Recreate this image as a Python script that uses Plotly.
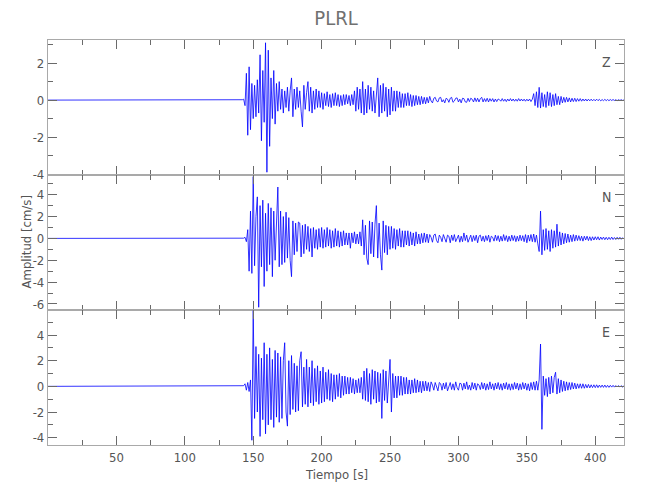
import plotly.graph_objects as go

# ---------------- data (cm/s), one sample per second ----------------
T0 = 140  # traces are flat (≈0) before this time

Z_ACTIVE = [
    0.0, 0.0, 0.02, 0.05, -0.3, 1.45, -1.9, 1.8, -1.6, 0.9,
    -1.0, 0.8, -0.9, 1.1, -0.7, 2.45, -2.2, 1.6, -1.2, 3.1,
    -3.9, 2.7, -2.5, 1.2, -1.0, 1.6, -1.3, 0.9, -0.6, 1.0,
    -0.5, 0.6, -0.7, 0.5, -0.4, 0.7, -0.6, 0.5, 1.2, -0.9,
    0.6, -0.5, 0.7, -0.4, 0.5, -0.6, -1.45, 0.8, -0.5, 0.4,
    1.0, -0.6, 0.7, -0.7, 0.5, -0.5, 0.6, -0.4, 0.5, -0.4,
    0.4, -0.5, 0.35, -0.3, 0.45, -0.35, 0.3, -0.4, 0.35, -0.3,
    0.4, -0.3, 0.3, -0.35, 0.25, -0.3, 0.3, -0.25, 0.3, -0.2,
    0.25, -0.3, 0.3, -0.25, 0.5, -0.6, 0.7, -0.5, 0.6, -0.7,
    1.0, -0.8, 0.6, -0.7, 0.8, -0.5, 0.7, -0.6, 0.5, -0.7,
    0.6, 1.2, -0.9, 0.8, -0.7, 0.9, -0.6, 0.7, -0.9, 0.6,
    -0.8, 0.7, -0.6, 0.5, -0.6, 0.5, -0.4, 0.45, -0.4, 0.35,
    -0.4, 0.35, -0.3, 0.4, -0.3, 0.3, -0.35, 0.25, -0.3, 0.25,
    -0.25, 0.2, -0.25, 0.2, -0.2, 0.15, -0.2, 0.15, -0.15, 0.2,
    -0.05, -0.15, 0.1, 0.15, -0.05, -0.1, 0.12, 0.15, -0.1, 0.02,
    -0.15, 0.1, 0.05, -0.12, 0.1, 0.15, -0.12, -0.05, 0.1, 0.12,
    -0.1, 0.05, -0.15, 0.1, 0.08, -0.1, -0.12, 0.1, -0.08, 0.1,
    0.05, -0.1, 0.12, -0.08, 0.1, -0.1, 0.08, 0.15, -0.1, 0.08,
    -0.08, 0.1, -0.1, 0.08, -0.06, 0.08, -0.1, 0.06, -0.08, 0.06,
    0.02, -0.06, 0.08, -0.06, 0.05, -0.08, 0.06, -0.05, 0.08, -0.05,
    0.06, -0.06, 0.05, -0.06, 0.08, -0.05, 0.06, -0.05, 0.05, -0.06,
    0.05, -0.05, 0.06, -0.08, 0.05, 0.35, -0.3, 0.45, -0.4, 0.69,
    -0.43, 0.4, -0.35, 0.3, -0.4, 0.45, -0.3, 0.4, -0.35, 0.3,
    -0.3, 0.35, -0.25, 0.2, -0.25, 0.2, -0.15, 0.15, -0.12, 0.15,
    -0.1, 0.12, -0.1, 0.1, -0.08, 0.1, -0.08, 0.08, -0.06, 0.08,
    -0.06, 0.06, -0.05, 0.06, -0.05, 0.05, -0.04, 0.05, -0.04, 0.04,
    -0.04, 0.05, -0.03, 0.04, -0.04, 0.03, -0.03, 0.04, -0.03, 0.03,
    -0.03, 0.03, -0.02, 0.03, -0.02, 0.02, -0.03, 0.02, -0.02, 0.02,
    -0.02, 0.01,
]

N_ACTIVE = [
    0.0, 0.0, 0.0, 0.02, 0.1, -0.3, 0.8, -3.0, 2.5, -3.2,
    5.65, -2.5, 2.0, 3.8, -6.3, 3.0, -2.6, 3.5, -4.4, 2.3,
    -3.0, 3.2, -2.4, 2.8, -3.5, 2.5, -2.0, 2.2, 4.7, -2.6,
    2.5, -2.4, 2.0, -2.2, 2.4, -1.8, 1.9, -2.0, -3.5, 1.6,
    -1.5, 1.4, -1.2, 1.5, 1.4, -1.7, 1.2, -1.4, 1.3, -1.0,
    1.1, -1.2, 0.9, -1.7, 1.0, -0.9, 0.8, -1.0, 0.9, -0.8,
    1.0, -0.9, 0.8, -0.8, 1.0, -0.7, 0.8, -0.9, 0.7, -0.8,
    0.9, -0.7, 0.7, -0.8, 0.6, -0.7, 0.7, -0.6, 0.5, -0.6,
    0.5, -0.9, 0.5, -0.4, 0.6, -0.5, 0.4, -0.5, 0.6, -0.7,
    1.7, -1.5, 1.2, -1.8, -2.4, 1.6, -1.4, 1.5, -1.7, 1.3,
    3.0, -1.8, 1.4, -1.5, -2.9, 1.6, -1.3, 1.2, -1.5, 1.1,
    -1.0, 1.1, -0.9, 0.9, -1.0, 0.8, -0.7, 0.9, -0.8, 0.7,
    -0.8, 0.7, -0.6, 0.7, -0.7, 0.6, -0.6, 0.5, -0.7, 0.6,
    -0.5, 0.4, -0.5, 0.45, -0.4, 0.5, -0.35, 0.4, -0.4, 0.35,
    0.1, -0.35, 0.3, 0.4, -0.2, -0.4, 0.3, 0.1, -0.3, 0.35,
    -0.1, -0.35, 0.3, 0.2, -0.4, 0.3, -0.2, 0.35, -0.3, 0.1,
    0.3, -0.35, 0.2, -0.3, 0.5, -0.2, 0.3, -0.35, 0.1, 0.3,
    -0.3, 0.25, -0.2, 0.3, -0.4, 0.2, 0.3, -0.25, 0.2, -0.3,
    0.25, -0.2, 0.3, -0.35, 0.2, 0.1, -0.25, 0.3, -0.2, 0.25,
    -0.3, 0.2, -0.25, 0.35, -0.2, 0.25, -0.3, 0.2, -0.25, 0.3,
    -0.2, 0.25, -0.3, 0.2, -0.25, 0.3, -0.2, 0.25, -0.3, 0.35,
    -0.4, 0.3, -0.25, 0.35, -0.3, 0.4, -0.35, 0.3, -0.5, -1.2,
    2.5, -1.5, 0.8, -1.1, 0.9, -1.0, 0.7, -1.2, 0.8, -0.9,
    0.7, -0.8, 1.3, -0.7, 0.6, -0.6, 0.5, -0.5, 0.45, -0.4,
    0.4, -0.35, 0.3, -0.3, 0.35, -0.25, 0.3, -0.2, 0.25, -0.2,
    0.2, -0.25, 0.2, -0.15, 0.2, -0.2, 0.15, -0.2, 0.15, -0.15,
    0.15, -0.12, 0.15, -0.15, 0.12, -0.1, 0.12, -0.12, 0.1, -0.12,
    0.1, -0.1, 0.12, -0.1, 0.08, -0.1, 0.1, -0.08, 0.1, -0.08,
    0.06, -0.05,
]

E_ACTIVE = [
    0.0, 0.0, 0.0, 0.05, 0.2, -0.3, 0.3, -0.4, 0.5, -4.2,
    5.9, -2.5, 3.1, -2.0, 2.5, -3.9, 2.2, -2.6, 3.4, -3.7,
    2.5, -3.0, 3.0, -2.6, 2.1, -3.2, 2.8, -2.4, 2.6, -2.8,
    2.3, -2.5, 2.0, 3.4, -2.0, -3.1, 2.0, -2.2, 2.4, -1.8,
    1.8, -2.0, 1.6, -1.9, 2.0, 2.7, -1.6, 1.5, -1.4, 2.1,
    -1.6, 1.5, -1.3, 2.0, -1.5, 1.4, -1.2, 1.6, -1.4, 1.2,
    -1.3, 1.5, -1.2, 1.1, -1.0, 1.3, -1.1, 1.0, -1.2, 0.9,
    -1.0, 0.9, -0.8, 1.0, -0.9, 0.8, -0.7, 0.8, -0.6, 0.7,
    -0.6, 0.7, -0.5, 0.6, -0.6, 0.5, -0.5, 0.6, -0.5, 0.7,
    -1.0, 1.2, -1.1, 1.4, -1.2, 1.0, -1.4, 1.3, -1.0, 1.2,
    -1.3, 1.1, -1.2, 1.0, -2.5, 1.3, -1.1, 1.2, -1.3, 1.0,
    2.1, -2.0, 1.0, -0.9, 0.8, -0.9, 0.8, -0.7, 0.8, -0.7,
    0.7, -0.6, 0.7, -0.6, 0.5, -0.6, 0.5, -0.5, 0.6, -0.5,
    0.5, -0.45, 0.4, -0.5, 0.4, -0.35, 0.4, -0.35, 0.3, -0.4,
    0.35, 0.1, -0.3, 0.3, -0.1, -0.35, 0.3, 0.2, -0.3, 0.25,
    -0.2, 0.3, -0.35, 0.1, 0.3, -0.25, 0.2, -0.3, 0.35, -0.1,
    -0.3, 0.25, 0.2, -0.3, 0.25, -0.2, 0.35, -0.25, 0.1, -0.3,
    0.3, -0.2, 0.25, -0.3, 0.2, 0.1, -0.25, 0.3, -0.2, 0.25,
    -0.3, 0.2, -0.25, 0.35, -0.2, 0.2, -0.3, 0.25, -0.2, 0.3,
    -0.25, 0.2, -0.3, 0.25, -0.2, 0.3, -0.25, 0.2, -0.3, 0.2,
    -0.25, 0.3, -0.2, 0.25, -0.3, 0.2, -0.25, 0.3, -0.2, 0.25,
    -0.3, 0.2, -0.35, 0.3, -0.25, 0.35, -0.3, 0.4, -0.3, 0.5,
    3.3, -3.35, 0.8, -0.7, 0.6, -0.8, 0.7, -0.6, 0.8, -0.5,
    0.7, 1.1, -0.6, 0.6, -0.5, 0.5, -0.4, 0.4, -0.35, 0.35,
    -0.3, 0.3, -0.25, 0.3, -0.2, 0.25, -0.2, 0.2, -0.15, 0.2,
    -0.15, 0.2, -0.15, 0.15, -0.12, 0.15, -0.12, 0.12, -0.1, 0.12,
    -0.1, 0.12, -0.1, 0.1, -0.08, 0.1, -0.08, 0.1, -0.08, 0.08,
    -0.08, 0.08, -0.06, 0.08, -0.06, 0.06, -0.05, 0.06, -0.05, 0.05,
    -0.05, 0.04,
]

QUIET = [0.0] * T0
TIME = list(range(0, T0 + len(Z_ACTIVE)))
TRACES = [QUIET + Z_ACTIVE, QUIET + N_ACTIVE, QUIET + E_ACTIVE]

COMPONENTS = ["Z", "N", "E"]
Y_RANGES = [[-4.05, 3.25], [-6.55, 5.8], [-4.57, 5.95]]
Y_TICKS = [[-4, -2, 0, 2], [-6, -4, -2, 0, 2, 4], [-4, -2, 0, 2, 4]]
X_RANGE = [0, 421]
X_TICKS = [50, 100, 150, 200, 250, 300, 350, 400]
X_MINOR = [25, 75, 125, 175, 225, 275, 325, 375]

TITLE = "PLRL"
X_LABEL = "Tiempo [s]"
Y_LABEL = "Amplitud [cm/s]"

# ---------------- style ----------------
FONT = "Liberation Sans Narrow, DejaVu Sans Condensed, Roboto, Arial, sans-serif"
FRAME = "#a9a9a9"
TICKC = "#6a6a6a"
TEXTC = "#555555"

fig = go.Figure()
domains = [[2 / 3, 1.0], [1 / 3, 2 / 3], [0.0, 1 / 3]]

for i, ys in enumerate(TRACES):
    sfx = "" if i == 0 else str(i + 1)
    fig.add_trace(go.Scatter(
        x=TIME, y=ys, mode="lines",
        line=dict(color="#0000ff", width=0.8),
        xaxis="x" + sfx, yaxis="y" + sfx,
        showlegend=False, hoverinfo="skip",
    ))
    xa = dict(
        domain=[0, 1], anchor="y" + sfx, range=X_RANGE, automargin=False,
        tickmode="array", tickvals=X_TICKS,
        ticks="inside", ticklen=9, tickwidth=1, tickcolor=TICKC,
        minor=dict(tickmode="array", tickvals=X_MINOR, ticks="inside",
                   ticklen=5, tickwidth=1, tickcolor=TICKC),
        showline=True, linecolor=FRAME, linewidth=1.2, mirror="allticks",
        showgrid=False, zeroline=False,
        showticklabels=(i == 2),
        tickfont=dict(family=FONT, size=13, color=TEXTC),
    )
    if i > 0:
        xa["matches"] = "x"
    ya = dict(
        domain=domains[i], anchor="x" + sfx, range=Y_RANGES[i], automargin=False,
        tickmode="array", tickvals=Y_TICKS[i],
        ticktext=[str(v) for v in Y_TICKS[i]],
        ticks="inside", ticklen=9, tickwidth=1, tickcolor=TICKC,
        minor=dict(tickmode="linear", tick0=0, dtick=1, ticks="inside",
                   ticklen=5, tickwidth=1, tickcolor=TICKC),
        showline=True, linecolor=FRAME, linewidth=1.2, mirror="allticks",
        showgrid=False, zeroline=False,
        tickfont=dict(family=FONT, size=13, color=TEXTC),
    )
    fig.layout["xaxis" + sfx] = xa
    fig.layout["yaxis" + sfx] = ya

PLOT_W = 576.0
PLOT_H = 405.0
annotations = []
for i, comp in enumerate(COMPONENTS):
    top = domains[i][1]
    annotations.append(dict(
        text=comp, xref="paper", yref="paper",
        x=0.969, y=top - 21.5 / PLOT_H, xanchor="center", yanchor="middle",
        showarrow=False, font=dict(family=FONT, size=14, color=TEXTC),
    ))
annotations.append(dict(
    text=Y_LABEL, xref="paper", yref="paper", x=-22 / PLOT_W, y=0.5,
    xanchor="center", yanchor="middle", textangle=-90, showarrow=False,
    font=dict(family=FONT, size=13, color=TEXTC),
))
annotations.append(dict(
    text=X_LABEL, xref="paper", yref="paper", x=0.5, y=-30 / PLOT_H,
    xanchor="center", yanchor="middle", showarrow=False,
    font=dict(family=FONT, size=13, color=TEXTC),
))

fig.update_layout(
    width=650, height=500,
    margin=dict(l=48, r=26, t=40, b=55, autoexpand=False),
    paper_bgcolor="white", plot_bgcolor="white",
    title=dict(text=TITLE, x=0.5, xref="paper", y=1 - 18 / 500,
               yanchor="middle", xanchor="center",
               font=dict(family=FONT, size=20, color="#707070")),
    annotations=annotations,
)

fig.write_html("out.html", config={"displayModeBar": False},
               post_script="document.body.style.margin='0';")
